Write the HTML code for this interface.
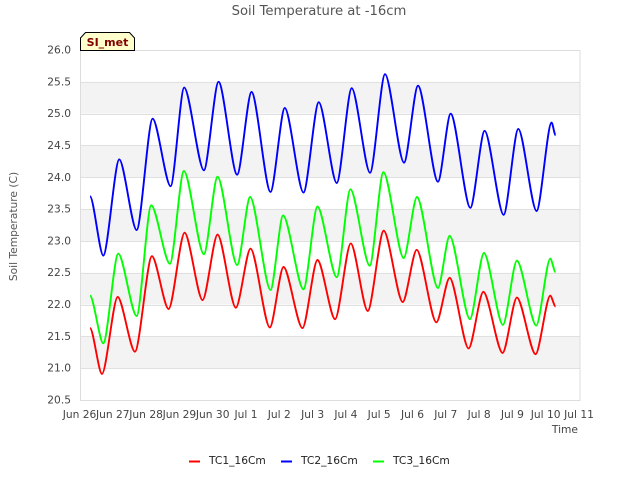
<!DOCTYPE html>
<html>
<head>
<meta charset="utf-8">
<title>Soil Temperature at -16cm</title>
<style>
html,body{margin:0;padding:0;background:#fff;width:640px;height:480px;overflow:hidden}
svg{display:block}
text{font-family:"DejaVu Sans","Liberation Sans",sans-serif}
</style>
</head>
<body>
<svg id="chart" xmlns="http://www.w3.org/2000/svg" width="640" height="480" viewBox="0 0 640 480">
  <text x="319" y="15" text-anchor="middle" font-size="13.2" fill="#555">Soil Temperature at -16cm</text>
  <g id="bands"></g>
  <g id="grid"></g>
  <rect x="80.5" y="50.5" width="499.5" height="350" fill="none" stroke="#ddd" stroke-width="1"/>
  <g id="ylabels"></g>
  <g id="xlabels"></g>
  <g id="series"></g>
  <text transform="translate(17,226.5) rotate(-90)" text-anchor="middle" font-size="10.67" fill="#555">Soil Temperature (C)</text>
  <text x="578" y="433" text-anchor="end" font-size="10.67" fill="#444">Time</text>
  <g>
    <polygon points="80.5,50.5 80.5,38 85.5,32.5 129.5,32.5 134.5,38 134.5,50.5" fill="#ffffcc" stroke="#000" stroke-width="1"/>
    <text x="107.5" y="46" text-anchor="middle" font-size="11" font-weight="bold" fill="#800000">SI_met</text>
  </g>
  <g id="legend"></g>
</svg>
<script>
var xTickLabels = ["Jun 26","Jun 27","Jun 28","Jun 29","Jun 30","Jul 1","Jul 2","Jul 3","Jul 4","Jul 5","Jul 6","Jul 7","Jul 8","Jul 9","Jul 10","Jul 11"];
var yTickLabels = ["20.5","21.0","21.5","22.0","22.5","23.0","23.5","24.0","24.5","25.0","25.5","26.0"];
var seriesNames = ["TC1_16Cm","TC2_16Cm","TC3_16Cm"];
var seriesColors = ["#ff0000","#0000ff","#00ff00"];

var tc1Days = [0.285,0.645,1.116,1.635,2.145,2.646,3.126,3.666,4.116,4.665,5.106,5.686,6.096,6.666,7.116,7.645,8.116,8.626,9.106,9.676,10.096,10.687,11.085,11.656,12.097,12.676,13.105,13.666,14.107,14.266];
var tc1Values = [21.63,20.91,22.12,21.26,22.76,21.93,23.13,22.07,23.10,21.95,22.88,21.64,22.59,21.63,22.70,21.77,22.96,21.90,23.16,22.04,22.86,21.72,22.42,21.31,22.20,21.24,22.11,21.22,22.14,21.97];

var tc2Days = [0.285,0.684,1.164,1.686,2.166,2.706,3.114,3.705,4.146,4.704,5.136,5.706,6.135,6.696,7.155,7.695,8.145,8.695,9.145,9.715,10.135,10.735,11.116,11.707,12.136,12.706,13.147,13.696,14.146,14.266];
var tc2Values = [23.70,22.77,24.28,23.17,24.92,23.86,25.41,24.11,25.50,24.04,25.34,23.77,25.09,23.76,25.18,23.91,25.40,24.07,25.62,24.23,25.44,23.93,25.00,23.52,24.73,23.41,24.76,23.47,24.86,24.66];

var tc3Days = [0.285,0.684,1.134,1.686,2.124,2.685,3.105,3.705,4.116,4.704,5.094,5.706,6.084,6.696,7.116,7.695,8.106,8.685,9.096,9.705,10.104,10.735,11.085,11.695,12.115,12.685,13.105,13.687,14.107,14.266];
var tc3Values = [22.14,21.39,22.80,21.82,23.56,22.64,24.10,22.79,24.01,22.62,23.69,22.23,23.40,22.24,23.54,22.43,23.81,22.61,24.08,22.73,23.69,22.26,23.08,21.77,22.81,21.68,22.69,21.67,22.72,22.51];

var SVG_NS = "http://www.w3.org/2000/svg";
var plotLeft = 80.5, plotRight = 580, plotTop = 50, plotBottom = 400;
var xMin = 0, xMax = 15, yMin = 20.5, yMax = 26;

function xScale(d) { return plotLeft + (d - xMin) / (xMax - xMin) * (plotRight - plotLeft); }
function yScale(v) { return plotBottom - (v - yMin) / (yMax - yMin) * (plotBottom - plotTop); }
function make(tag, parentId) {
  var el = document.createElementNS(SVG_NS, tag);
  document.getElementById(parentId).appendChild(el);
  return el;
}
function curvePath(days, values) {
  var d = "M" + xScale(days[0]).toFixed(2) + " " + yScale(values[0]).toFixed(2);
  for (var i = 1; i < days.length; i++) {
    var x0 = xScale(days[i - 1]), y0 = yScale(values[i - 1]);
    var x1 = xScale(days[i]), y1 = yScale(values[i]);
    var k = (x1 - x0) * 0.28;
    d += "C" + (x0 + k).toFixed(2) + " " + y0.toFixed(2) + " " + (x1 - k).toFixed(2) + " " + y1.toFixed(2) + " " + x1.toFixed(2) + " " + y1.toFixed(2);
  }
  return d;
}

yTickLabels.forEach(function (label, i) {
  var v = parseFloat(label);
  var y = yScale(v);
  if (i < yTickLabels.length - 1 && i % 2 === 1) {
    var band = make("rect", "bands");
    
    
    band.setAttribute("x", plotLeft);
    band.setAttribute("y", yScale(parseFloat(yTickLabels[i + 1])));
    band.setAttribute("width", plotRight - plotLeft);
    band.setAttribute("height", y - yScale(parseFloat(yTickLabels[i + 1])));
    band.setAttribute("fill", "#f3f3f3");
  }
  var line = make("line", "grid");
  
  
  line.setAttribute("x1", plotLeft);
  line.setAttribute("x2", plotRight);
  line.setAttribute("y1", Math.round(y) + 0.5);
  line.setAttribute("y2", Math.round(y) + 0.5);
  line.setAttribute("stroke", "#e0e0e0");
  var text = make("text", "ylabels");
  
  
  text.setAttribute("x", 71);
  text.setAttribute("y", y + 3.5);
  text.setAttribute("text-anchor", "end");
  text.setAttribute("font-size", "10.67");
  text.setAttribute("fill", "#444");
  text.textContent = label;
});

xTickLabels.forEach(function (label, i) {
  var text = make("text", "xlabels");
  
  
  text.setAttribute("x", xScale(i) - 1);
  text.setAttribute("y", 418);
  text.setAttribute("text-anchor", "middle");
  text.setAttribute("font-size", "10.67");
  text.setAttribute("fill", "#444");
  text.textContent = label;
});

var allDays = [tc1Days, tc2Days, tc3Days];
var allValues = [tc1Values, tc2Values, tc3Values];
seriesNames.forEach(function (name, i) {
  var path = make("path", "series");
  
  
  path.setAttribute("d", curvePath(allDays[i], allValues[i]));
  path.setAttribute("fill", "none");
  path.setAttribute("stroke", seriesColors[i]);
  path.setAttribute("stroke-width", "1.9");
  path.setAttribute("stroke-linejoin", "round");

  var swatchX = 189 + i * 92;
  var swatch = make("line", "legend");
  
  
  swatch.setAttribute("x1", swatchX);
  swatch.setAttribute("x2", swatchX + 11);
  swatch.setAttribute("y1", 461.5);
  swatch.setAttribute("y2", 461.5);
  swatch.setAttribute("stroke", seriesColors[i]);
  swatch.setAttribute("stroke-width", "2");
  var text = make("text", "legend");
  
  
  text.setAttribute("x", swatchX + 20);
  text.setAttribute("y", 464);
  text.setAttribute("font-size", "10.67");
  text.setAttribute("fill", "#222");
  text.textContent = name;
});
</script>
</body>
</html>
